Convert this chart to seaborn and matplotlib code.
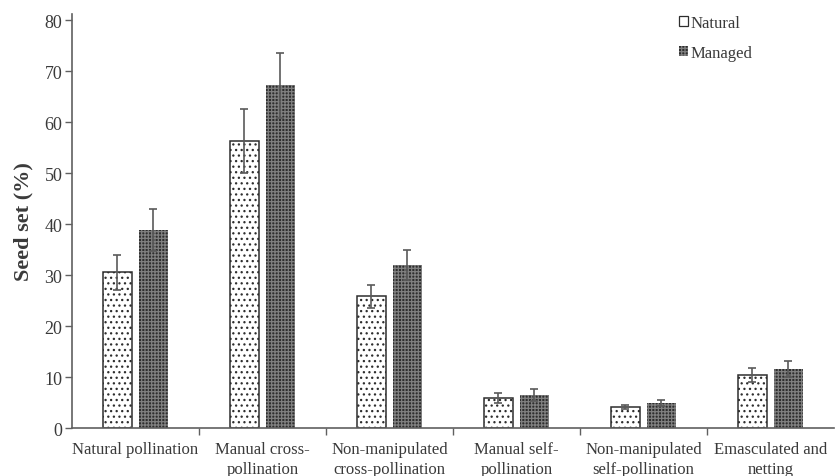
import matplotlib
matplotlib.use("Agg")
import matplotlib.pyplot as plt
from matplotlib.patches import Patch
from matplotlib.ticker import FixedLocator
import numpy as np
import pandas as pd
import seaborn as sns

# Treatments and seed set (%) per pollinator context
treatments = [
    "Natural pollination",
    "Manual cross-\npollination",
    "Non-manipulated\ncross-pollination",
    "Manual self-\npollination",
    "Non-manipulated\nself-pollination",
    "Emasculated and\nnetting",
]
groups = ["Natural", "Managed"]
natural_mean = [30.5, 56.3, 25.8, 5.9, 4.2, 10.4]
natural_err = [3.5, 6.2, 2.2, 1.0, 0.4, 1.3]
managed_mean = [38.9, 67.2, 32.0, 6.4, 4.9, 11.6]
managed_err = [4.1, 6.4, 2.9, 1.2, 0.5, 1.6]

df = pd.DataFrame({
    "treatment": treatments * 2,
    "group": [groups[0]] * len(treatments) + [groups[1]] * len(treatments),
    "seed_set": natural_mean + managed_mean,
    "err": natural_err + managed_err,
})

sns.set_theme(style="white")
plt.rcParams["font.family"] = ["Liberation Serif", "DejaVu Serif"]
plt.rcParams["hatch.linewidth"] = 0.9

text_col = "#3a3a3a"
axis_col = "#606060"

fig = plt.figure(figsize=(8.38, 4.77), dpi=100)
ax = fig.add_axes([0.0859, 0.1006, 0.9091, 0.868])

sns.barplot(data=df, x="treatment", y="seed_set", hue="group",
            order=treatments, hue_order=groups, errorbar=None,
            width=0.567, gap=0.2, palette=["white", "#333333"],
            legend=False, ax=ax)

n = len(treatments)
nat_bars = ax.patches[:n]
man_bars = ax.patches[n:2 * n]

for p in nat_bars:
    p.set_facecolor("white")
    p.set_edgecolor("#2e2e2e")
    p.set_linewidth(1.1)
    p.set_hatch("...")
for p in man_bars:
    p.set_facecolor("#2e2e2e")
    p.set_edgecolor("#808080")
    p.set_linewidth(0.0)
    p.set_hatch("+++++")

# Error bars centred on each bar
for bars, means, errs in ((nat_bars, natural_mean, natural_err),
                          (man_bars, managed_mean, managed_err)):
    xs = [p.get_x() + p.get_width() / 2 for p in bars]
    ax.errorbar(xs, means, yerr=errs, fmt="none", ecolor="#5a5a5a",
                elinewidth=1.2, capsize=3.2, capthick=1.2, zorder=5)

ax.set_xlim(-0.5, n - 0.5)
ax.set_ylim(0, 81.2)
ax.set_yticks(np.arange(0, 81, 10))
ax.tick_params(axis="y", which="major", direction="out", length=5, width=1,
               color=axis_col, labelsize=13, labelcolor=text_col, pad=2,
               left=True)
ax.tick_params(axis="x", which="major", length=0, labelsize=12,
               labelcolor=text_col, pad=9)
for lbl in ax.get_xticklabels():
    lbl.set_linespacing(1.4)
ax.xaxis.set_minor_locator(FixedLocator(np.arange(0.5, n - 0.5, 1.0)))
ax.tick_params(axis="x", which="minor", direction="out", length=5, width=1,
               color=axis_col, bottom=True)
ax.set_xlabel("")
ax.set_ylabel("Seed set (%)", fontsize=16, fontweight="bold",
              color=text_col, labelpad=8)

for side in ("top", "right"):
    ax.spines[side].set_visible(False)
for side in ("left", "bottom"):
    ax.spines[side].set_color(axis_col)
    ax.spines[side].set_linewidth(1.2)

handles = [
    Patch(facecolor="white", edgecolor="#2e2e2e", linewidth=0.9),
    Patch(facecolor="#2e2e2e", edgecolor="#808080", hatch="+++++", linewidth=0),
]
leg = ax.legend(handles, groups, loc="upper left",
                bbox_to_anchor=(679 / 838, 1 - 16 / 477),
                bbox_transform=fig.transFigure, frameon=False, fontsize=12,
                handlelength=0.55, handleheight=0.55, handletextpad=0.15,
                labelspacing=0.85, borderpad=0, borderaxespad=0)
for t in leg.get_texts():
    t.set_color(text_col)

fig.savefig("out.png", dpi=100)
